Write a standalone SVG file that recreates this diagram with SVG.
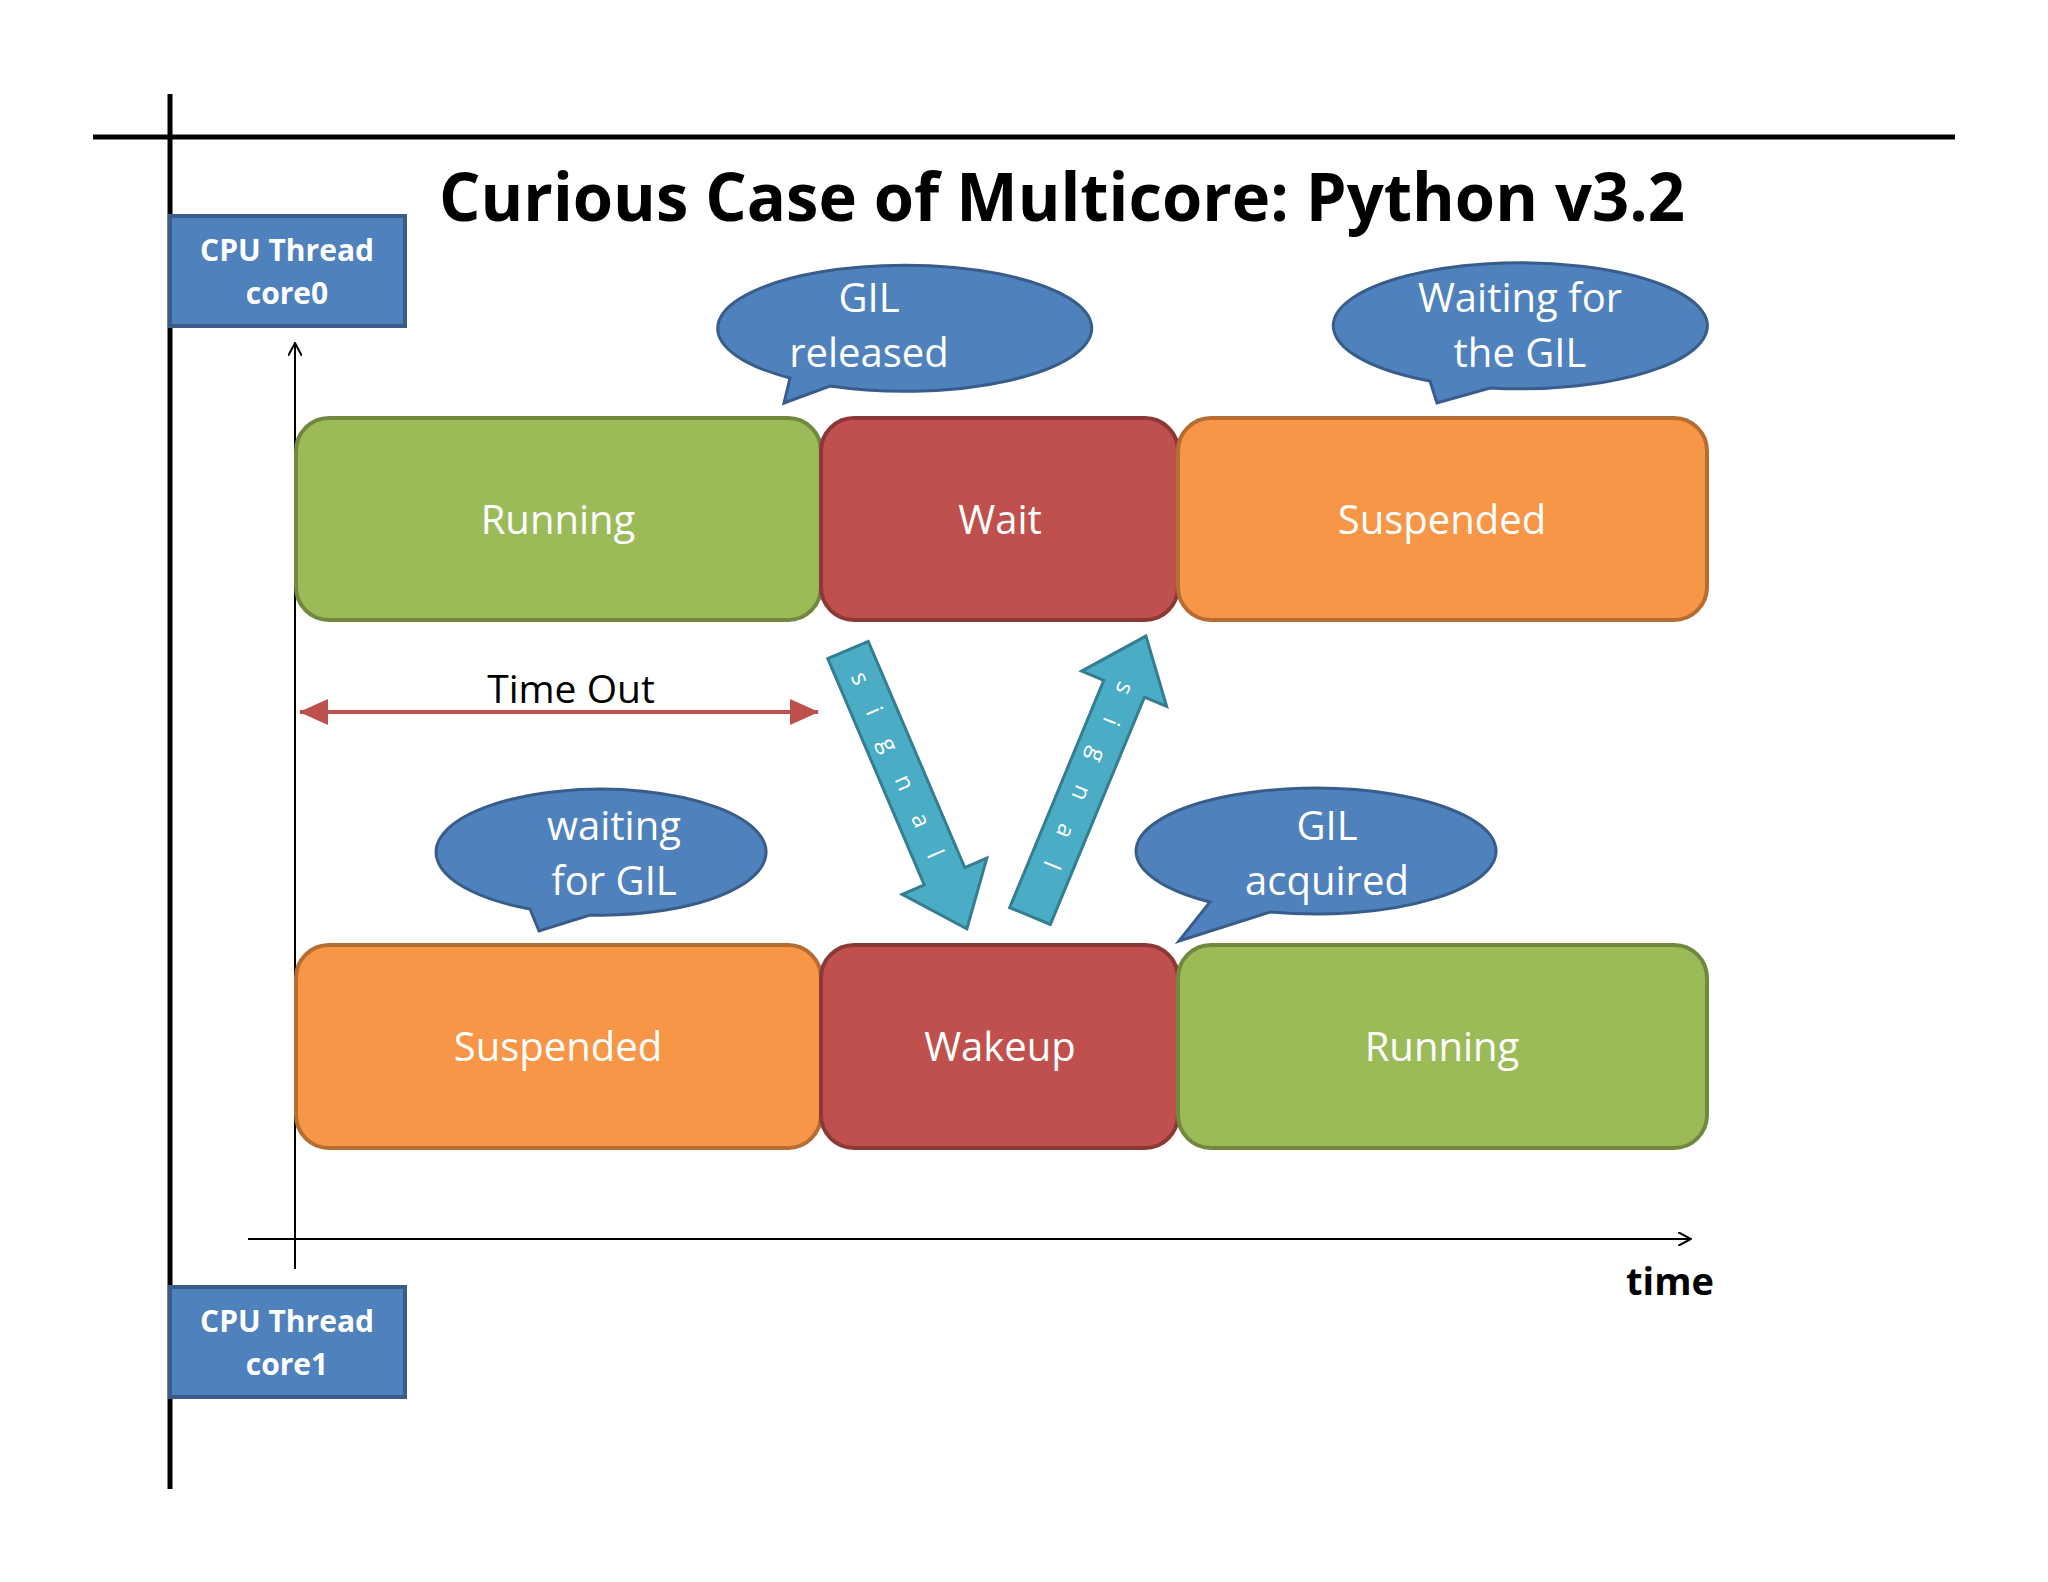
<svg xmlns="http://www.w3.org/2000/svg" width="2048" height="1582" viewBox="0 0 2048 1582">
<style>
.lbl{font-family:"Open Sans","DejaVu Sans",sans-serif;font-size:40px;fill:#fff;text-anchor:middle}
.box{stroke-width:4}
.g{fill:#9bbb59;stroke:#71893f}.r{fill:#c0504d;stroke:#8c3836}.o{fill:#f79646;stroke:#b66d31}
.call{fill:#4f81bd;stroke:#385d8a;stroke-width:3}
.cpu{fill:#4f81bd;stroke:#385d8a;stroke-width:4}
.cpt{font-family:"Open Sans","DejaVu Sans",sans-serif;font-size:30px;font-weight:bold;fill:#fff;text-anchor:middle}
.sig{fill:#4bacc6;stroke:#357d91;stroke-width:3}
.st{font-family:"Open Sans",sans-serif;font-size:24px;fill:#fff}
</style>
<defs>
<marker id="ah" markerWidth="14" markerHeight="14" refX="12" refY="7" orient="auto" markerUnits="userSpaceOnUse"><path d="M0,0 L13,7 L0,14" fill="none" stroke="#000" stroke-width="2"/></marker>
<marker id="rh" markerWidth="30" markerHeight="26" refX="28" refY="13" orient="auto-start-reverse" markerUnits="userSpaceOnUse"><path d="M0,0 L29,13 L0,26 Z" fill="#c0504d"/></marker>
</defs>
<rect width="2048" height="1582" fill="#fff"/>
<g id="frame">
<line x1="93" y1="137" x2="1955" y2="137" stroke="#000" stroke-width="5"/>
<line x1="170" y1="94" x2="170" y2="1489" stroke="#000" stroke-width="5"/>
<text x="1062" y="221" font-family="'Open Sans',sans-serif" font-weight="bold" font-size="66" text-anchor="middle" textLength="1246" lengthAdjust="spacingAndGlyphs">Curious Case of Multicore: Python v3.2</text>
</g>
<g id="cpu0"><rect class="cpu" x="170" y="216" width="235" height="110"/><text class="cpt" x="287" y="261">CPU Thread</text><text class="cpt" x="287" y="304">core0</text></g>
<g id="cpu1"><rect class="cpu" x="170" y="1287" width="235" height="110"/><text class="cpt" x="287" y="1332">CPU Thread</text><text class="cpt" x="287" y="1375">core1</text></g>
<g id="connectors">
<line x1="295" y1="1269" x2="295" y2="344" stroke="#000" stroke-width="2" marker-end="url(#ah)"/>
<line x1="248" y1="1239" x2="1690" y2="1239" stroke="#000" stroke-width="2" marker-end="url(#ah)"/>
<line x1="300" y1="712" x2="818" y2="712" stroke="#c0504d" stroke-width="4" marker-start="url(#rh)" marker-end="url(#rh)"/>
<text x="571" y="703" font-family="'Open Sans',sans-serif" font-size="39" text-anchor="middle">Time Out</text>
<text x="1670" y="1295" font-family="'Open Sans',sans-serif" font-size="38" font-weight="bold" text-anchor="middle">time</text>
</g>
<g id="running0"><rect class="box g" x="296" y="418" width="525" height="202" rx="33"/><text class="lbl" x="558" y="534">Running</text></g>
<g id="wait"><rect class="box r" x="821" y="418" width="357" height="202" rx="33"/><text class="lbl" x="1000" y="534">Wait</text></g>
<g id="susp0"><rect class="box o" x="1178" y="418" width="529" height="202" rx="33"/><text class="lbl" x="1442" y="534">Suspended</text></g>
<g id="susp1"><rect class="box o" x="296" y="945" width="525" height="203" rx="33"/><text class="lbl" x="558" y="1061">Suspended</text></g>
<g id="wakeup"><rect class="box r" x="821" y="945" width="357" height="203" rx="33"/><text class="lbl" x="1000" y="1061">Wakeup</text></g>
<g id="running1"><rect class="box g" x="1178" y="945" width="529" height="203" rx="33"/><text class="lbl" x="1442" y="1061">Running</text></g>
<g id="c1"><path class="call" d="M784,403 L790,378 A187,63 0 1 1 830,386 Z"/><text class="lbl" x="869" y="312">GIL</text><text class="lbl" x="869" y="367">released</text></g>
<g id="c2"><path class="call" d="M1437,403 L1430,381 A187,63 0 1 1 1490,388 Z"/><text class="lbl" x="1520" y="312">Waiting for</text><text class="lbl" x="1520" y="367">the GIL</text></g>
<g id="c3"><path class="call" d="M539,931 L530,909 A165,63 0 1 1 590,915 Z"/><text class="lbl" x="614" y="840">waiting</text><text class="lbl" x="614" y="895">for GIL</text></g>
<g id="c4"><path class="call" d="M1179,941 L1210,902 A180,63 0 1 1 1270,912 Z"/><text class="lbl" x="1327" y="840">GIL</text><text class="lbl" x="1327" y="895">acquired</text></g>
<g id="sig1" transform="translate(848,650) rotate(66.9)"><path class="sig" d="M0,-22 L246,-22 L246,-46 L303,0 L246,46 L246,22 L0,22 Z"/><text class="st" x="25" y="8" textLength="200" lengthAdjust="spacing">signal</text></g>
<g id="sig2"><path class="sig" transform="translate(1030,916) rotate(-67.5)" d="M0,-22 L246,-22 L246,-46 L303,0 L246,46 L246,22 L0,22 Z"/><text class="st" transform="translate(1146,637) rotate(112.5)" x="50" y="8" textLength="200" lengthAdjust="spacing">signal</text></g>
</svg>
